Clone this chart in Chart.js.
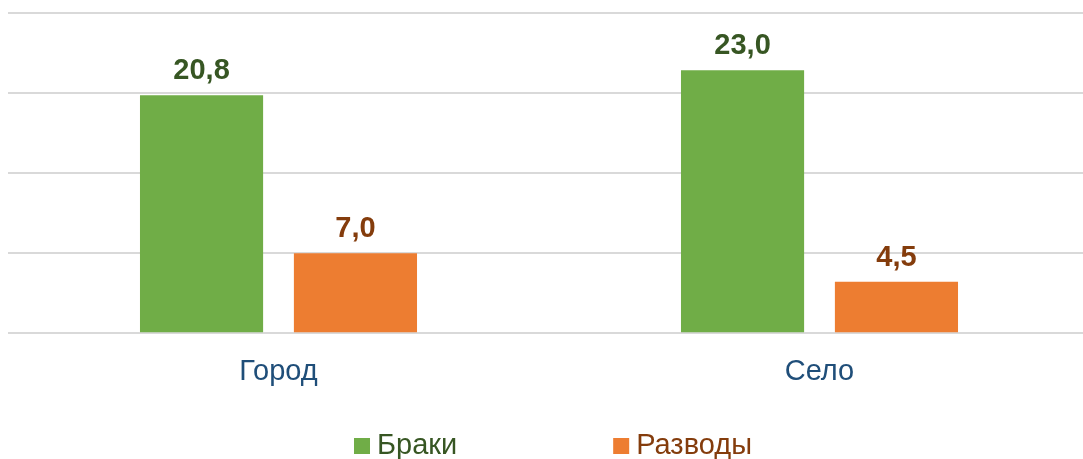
<!doctype html>
<html lang="ru">
  <head>
    <meta charset="utf-8">
    <title>Браки и разводы</title>
    <style>
      * { margin: 0; padding: 0; }
      html, body { width: 1083px; height: 459px; overflow: hidden; background: #fff; }
      .chartBox { width: 1090px; height: 459px; }
    </style>
  </head>
  <body>
    <div class="chartBox"><canvas id="myChart"></canvas></div>
    <script src="https://cdn.jsdelivr.net/npm/chart.js/dist/chart.umd.min.js"></script>
    <script>
// data
const categories = ['Город', 'Село'];
const seriesNames = ['Браки', 'Разводы'];
const marriages = [20.8, 23.0];
const divorces = [7.0, 4.5];

const barColors = ['#70ad47', '#ed7d31'];
const labelColors = ['#375623', '#843c0c'];
const FONT = '"Liberation Sans", Arial, sans-serif';

function fmt(v) {
  return v.toFixed(1).replace('.', ',');
}

// value labels above bars
const barLabels = {
  id: 'barLabels',
  afterDatasetsDraw(chart) {
    const { ctx } = chart;
    ctx.save();
    ctx.font = 'bold 29px ' + FONT;
    ctx.textAlign = 'center';
    ctx.textBaseline = 'alphabetic';
    chart.data.datasets.forEach((ds, i) => {
      const meta = chart.getDatasetMeta(i);
      ctx.fillStyle = labelColors[i];
      meta.data.forEach((bar, j) => {
        ctx.fillText(fmt(ds.data[j]), bar.x, bar.y - 16);
      });
    });
    ctx.restore();
  }
};

// legend at the bottom, each entry in its own colour
const bottomLegend = {
  id: 'bottomLegend',
  afterDraw(chart) {
    const { ctx, chartArea } = chart;
    ctx.save();
    ctx.font = '29px ' + FONT;
    ctx.textBaseline = 'middle';
    const box = 16, gapText = 7, gapItems = 156;
    const widths = chart.data.datasets.map(ds => box + gapText + ctx.measureText(ds.label).width);
    const total = widths.reduce((a, b) => a + b, 0) + gapItems * (widths.length - 1);
    let x = (chartArea.left + chartArea.right) / 2 - total / 2 + 4;
    const y = 445;
    chart.data.datasets.forEach((ds, i) => {
      ctx.fillStyle = ds.backgroundColor;
      ctx.fillRect(x, y - 7, box, box);
      ctx.fillStyle = labelColors[i];
      ctx.fillText(ds.label, x + box + gapText, y + 1);
      x += widths[i] + gapItems;
    });
    ctx.restore();
  }
};

const data = {
  labels: categories,
  datasets: [
    { label: seriesNames[0], data: marriages, backgroundColor: barColors[0] },
    { label: seriesNames[1], data: divorces, backgroundColor: barColors[1] }
  ]
};

const config = {
  type: 'bar',
  data,
  options: {
    responsive: true,
    maintainAspectRatio: false,
    animation: false,
    layout: { padding: { left: 8, right: 0, top: 13, bottom: 49 } },
    datasets: {
      bar: { categoryPercentage: 0.569, barPercentage: 0.8 }
    },
    scales: {
      x: {
        grid: { display: false, drawTicks: false },
        border: { display: false },
        ticks: {
          color: '#1f4e79',
          padding: 21,
          font: { family: FONT, size: 29 }
        }
      },
      y: {
        min: 0,
        max: 28,
        ticks: { display: false, stepSize: 7 },
        grid: { color: '#d9d9d9', lineWidth: 2, drawTicks: false },
        border: { display: false }
      }
    },
    plugins: {
      legend: { display: false },
      tooltip: { enabled: false }
    }
  },
  plugins: [barLabels, bottomLegend]
};

const myChart = new Chart(document.getElementById('myChart'), config);
    </script>
  </body>
</html>
